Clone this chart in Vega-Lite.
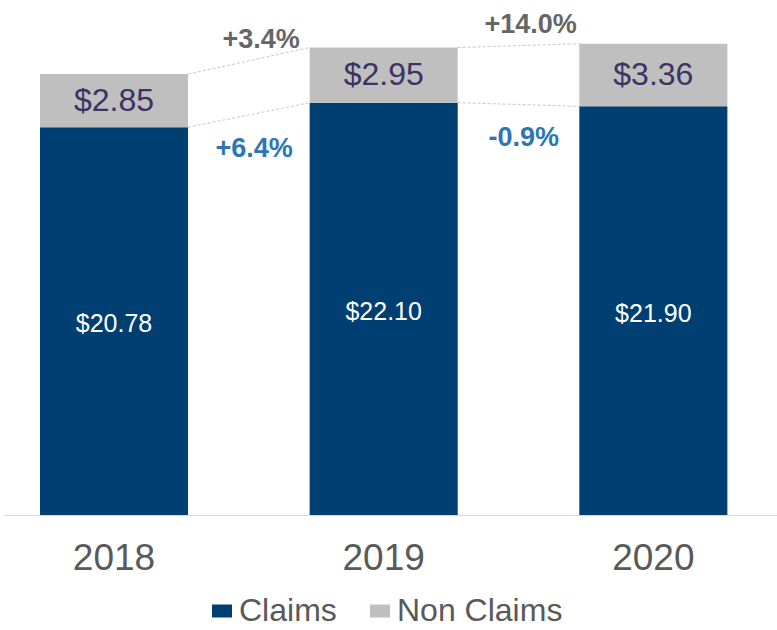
{
  "$schema": "https://vega.github.io/schema/vega-lite/v6.json",
  "width": 774,
  "height": 515,
  "autosize": {"type": "none"},
  "padding": {"left": 3, "top": 0, "right": 0, "bottom": 115},
  "config": {
    "view": {"stroke": null},
    "font": "Liberation Sans",
    "axisX": {
      "labelFontSize": 37,
      "labelColor": "#595959",
      "labelPadding": 25,
      "labelAngle": 0,
      "ticks": false,
      "domainColor": "#d9d9d9",
      "domainWidth": 1,
      "labelFont": "Liberation Sans"
    }
  },
  "datasets": {
    "bars": [
      {"year": "2018", "type": "Claims", "value": 20.78},
      {"year": "2018", "type": "Non Claims", "value": 2.85},
      {"year": "2019", "type": "Claims", "value": 22.10},
      {"year": "2019", "type": "Non Claims", "value": 2.95},
      {"year": "2020", "type": "Claims", "value": 21.90},
      {"year": "2020", "type": "Non Claims", "value": 3.36}
    ],
    "conn": [
      {"from": "2018", "to": "2019", "kind": "total", "v1": 23.63, "v2": 25.05, "label": "+3.4%"},
      {"from": "2018", "to": "2019", "kind": "claims", "v1": 20.78, "v2": 22.10, "label": "+6.4%"},
      {"from": "2019", "to": "2020", "kind": "total", "v1": 25.05, "v2": 25.26, "label": "+14.0%"},
      {"from": "2019", "to": "2020", "kind": "claims", "v1": 22.10, "v2": 21.90, "label": "-0.9%"}
    ]
  },
  "layer": [
    {
      "data": {"name": "conn"},
      "mark": {"type": "rule", "color": "#c8c8c8", "strokeDash": [3, 2], "strokeWidth": 1},
      "encoding": {
        "x": {"field": "from", "type": "nominal", "bandPosition": 1, "title": null},
        "x2": {"field": "to", "bandPosition": 0},
        "y": {"field": "v1", "type": "quantitative", "axis": null},
        "y2": {"field": "v2"}
      }
    },
    {
      "data": {"name": "bars"},
      "mark": {"type": "bar"},
      "encoding": {
        "x": {
          "field": "year",
          "type": "nominal",
          "title": null,
          "scale": {"domain": ["2018", "2019", "2020"], "paddingInner": 0.451, "paddingOuter": 0.1606, "align": 0.427}
        },
        "y": {
          "field": "value",
          "type": "quantitative",
          "stack": "zero",
          "axis": null,
          "scale": {"domain": [0, 27.6], "nice": false, "zero": true}
        },
        "color": {
          "field": "type",
          "type": "nominal",
          "scale": {"domain": ["Claims", "Non Claims"], "range": ["#003F71", "#BFBFBF"]},
          "legend": {
            "title": null,
            "orient": "none",
            "legendX": 203,
            "legendY": 595,
            "direction": "horizontal",
            "labelFontSize": 32,
            "labelColor": "#595959",
            "labelFont": "Liberation Sans",
            "labelLimit": 400,
            "symbolType": "M-1,-0.65H1V0.65H-1Z",
            "symbolSize": 400,
            "symbolStrokeWidth": 0,
            "labelOffset": 1,
            "columnPadding": 27
          }
        },
        "order": {"field": "type", "sort": "ascending"}
      }
    },
    {
      "data": {"name": "bars"},
      "transform": [
        {"stack": "value", "groupby": ["year"], "sort": [{"field": "type"}], "as": ["v0", "v1"]},
        {"calculate": "(datum.v0 + datum.v1) / 2", "as": "mid"},
        {"filter": "datum.type === 'Claims'"}
      ],
      "mark": {"type": "text", "color": "#ffffff", "fontSize": 25, "baseline": "middle", "dy": 3},
      "encoding": {
        "x": {"field": "year", "type": "nominal", "title": null},
        "y": {"field": "mid", "type": "quantitative", "axis": null},
        "text": {"field": "value", "type": "quantitative", "format": "$.2f"}
      }
    },
    {
      "data": {"name": "bars"},
      "transform": [
        {"stack": "value", "groupby": ["year"], "sort": [{"field": "type"}], "as": ["v0", "v1"]},
        {"calculate": "(datum.v0 + datum.v1) / 2", "as": "mid"},
        {"filter": "datum.type === 'Non Claims'"}
      ],
      "mark": {"type": "text", "color": "#3B3363", "fontSize": 32, "baseline": "middle"},
      "encoding": {
        "x": {"field": "year", "type": "nominal", "title": null},
        "y": {"field": "mid", "type": "quantitative", "axis": null},
        "text": {"field": "value", "type": "quantitative", "format": "$.2f"}
      }
    },
    {
      "data": {"name": "conn"},
      "transform": [
        {"calculate": "(datum.v1 + datum.v2) / 2", "as": "mid"},
        {"filter": "datum.kind === 'total'"}
      ],
      "mark": {"type": "text", "color": "#666666", "fontSize": 27, "fontWeight": "bold", "baseline": "middle", "dx": 73, "dy": -21},
      "encoding": {
        "x": {"field": "from", "type": "nominal", "bandPosition": 1, "title": null},
        "y": {"field": "mid", "type": "quantitative", "axis": null},
        "text": {"field": "label", "type": "nominal"}
      }
    },
    {
      "data": {"name": "conn"},
      "transform": [
        {"calculate": "(datum.v1 + datum.v2) / 2", "as": "mid"},
        {"filter": "datum.kind === 'claims'"}
      ],
      "mark": {"type": "text", "color": "#2E75B6", "fontSize": 27, "fontWeight": "bold", "baseline": "middle", "dx": 66, "dy": 34},
      "encoding": {
        "x": {"field": "from", "type": "nominal", "bandPosition": 1, "title": null},
        "y": {"field": "mid", "type": "quantitative", "axis": null},
        "text": {"field": "label", "type": "nominal"}
      }
    }
  ]
}
